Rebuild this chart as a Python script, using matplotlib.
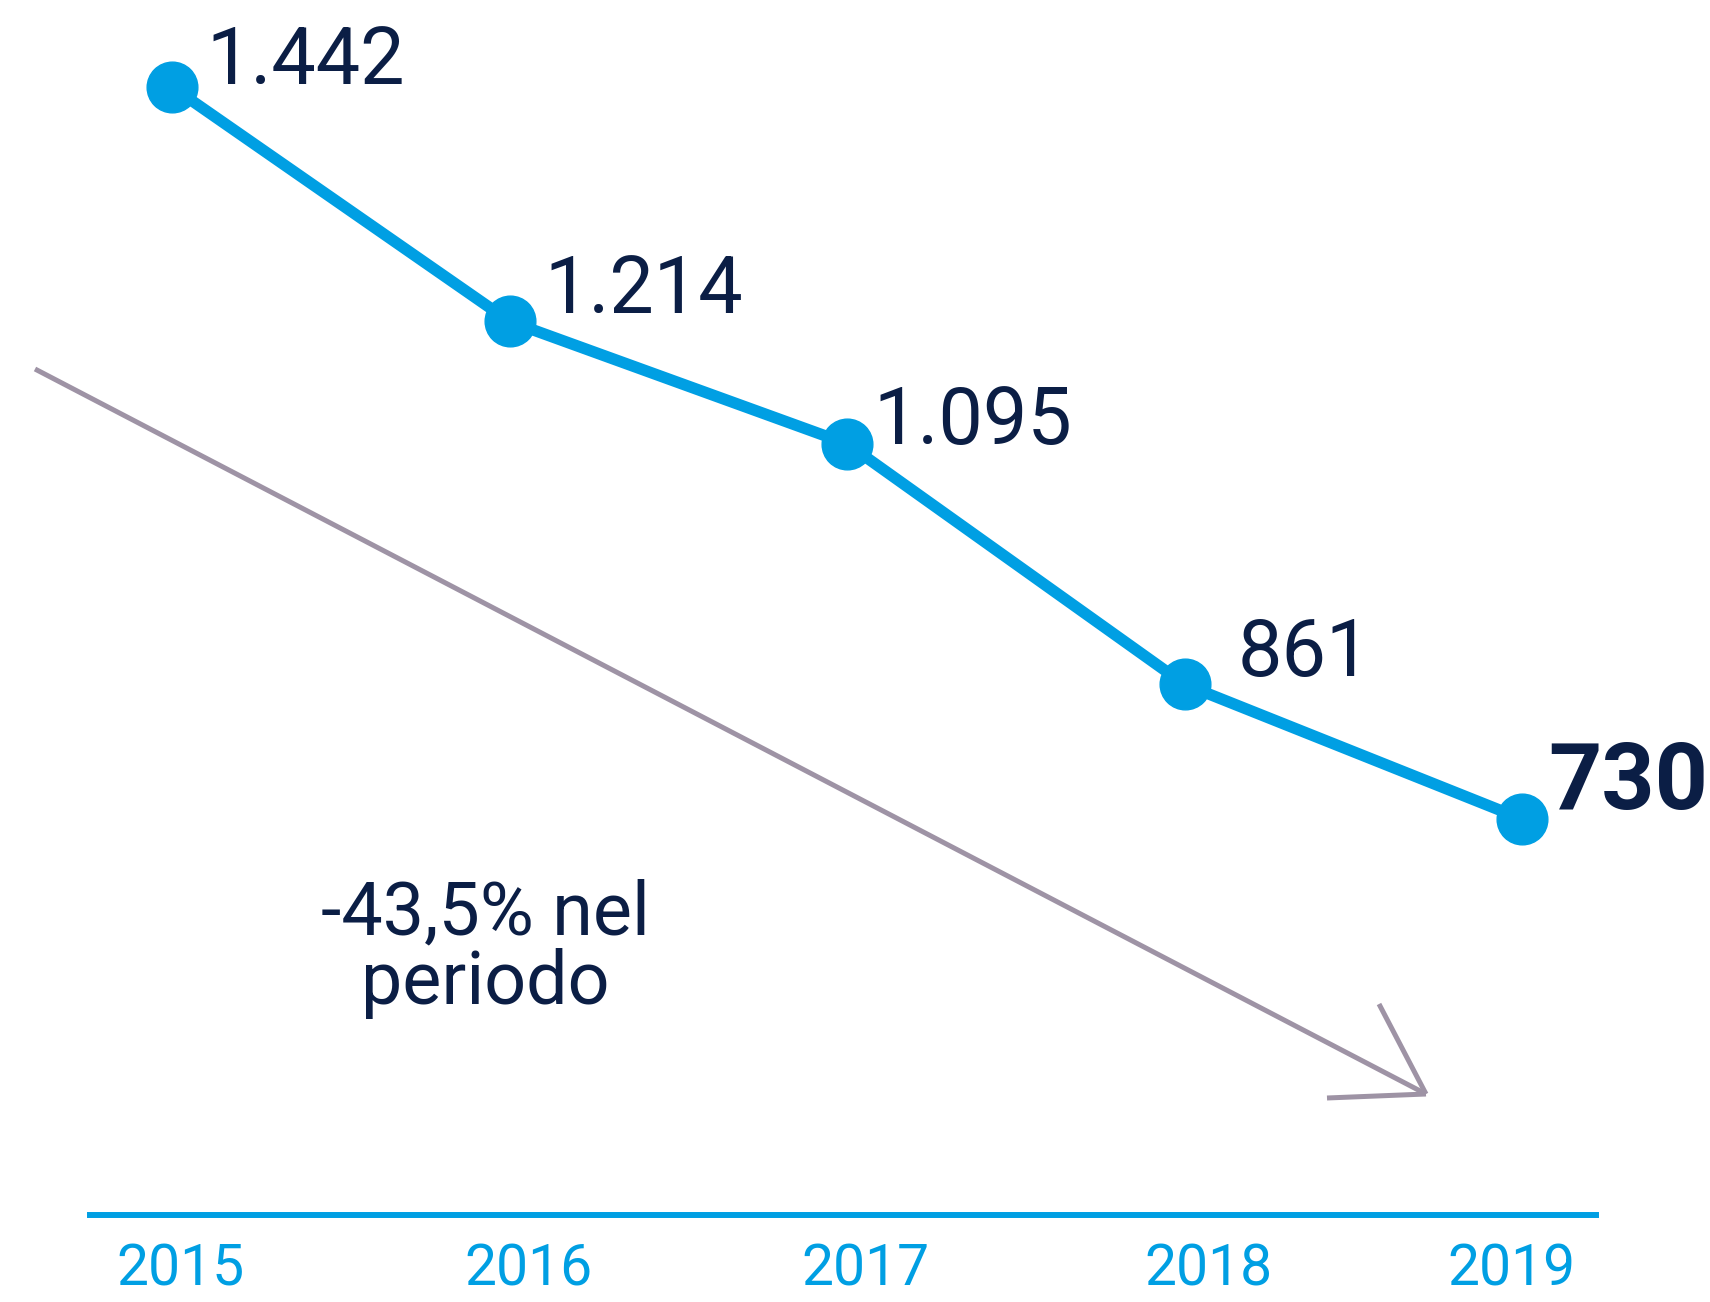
import matplotlib
matplotlib.use("Agg")
import matplotlib.pyplot as plt
from matplotlib.lines import Line2D

# data
years = [2015, 2016, 2017, 2018, 2019]
values = [1442, 1214, 1095, 861, 730]
value_labels = ["1.442", "1.214", "1.095", "861", "730"]
note = "-43,5% nel\nperiodo"

BLUE = "#009FE3"
NAVY = "#0B1E45"
GREY = "#9E93A5"

W, H = 1710, 1302
fig = plt.figure(figsize=(W / 100, H / 100), dpi=100)
ax = fig.add_axes([0, 0, 1, 1])
ax.set_xlim(2014.490, 2019.557)
ax.set_ylim(260.2, 1526.6)
ax.axis("off")

ax.plot(years, values, color=BLUE, lw=8.2, marker="o", markersize=36.5,
        solid_capstyle="round", zorder=3)

# value labels, offsets in points
offsets = [(25, 2), (25, 6), (19, 0), (38, 6), (19, 7)]
for i, (x, y, lab) in enumerate(zip(years, values, value_labels)):
    bold = i == len(years) - 1
    ax.annotate(lab, xy=(x, y), xytext=offsets[i], textcoords="offset points",
                fontsize=67 if bold else 57, fontweight="bold" if bold else "normal",
                family="Roboto", color=NAVY, ha="left", va="baseline")


def fx(px):
    return px / W


def fy(py):
    return 1 - py / H


# grey trend arrow (figure pixel coordinates)
tip = (1426, 1094)
for start in [(35, 369), (1379, 1004), (1327, 1098)]:
    fig.add_artist(Line2D([fx(start[0]), fx(tip[0])], [fy(start[1]), fy(tip[1])],
                          color=GREY, lw=3.6, solid_capstyle="butt"))

fig.text(fx(485), fy(1004), note, fontsize=53, family="Roboto", color=NAVY,
         ha="center", va="baseline", linespacing=0.97)

# baseline axis
fig.add_artist(Line2D([fx(90), fx(1596)], [fy(1215), fy(1215)], color=BLUE, lw=4.3))

year_dx = [8, 19, 18, 24, -11]
for x, dx in zip(years, year_dx):
    ax.annotate(str(x), xy=(x, 0), xycoords=("data", "figure fraction"),
                xytext=(dx * 0.72, fy(1286) * H * 0.72), textcoords="offset points",
                fontsize=41, family="Roboto", color=BLUE, ha="center", va="baseline")

fig.savefig("out.png", dpi=100)
